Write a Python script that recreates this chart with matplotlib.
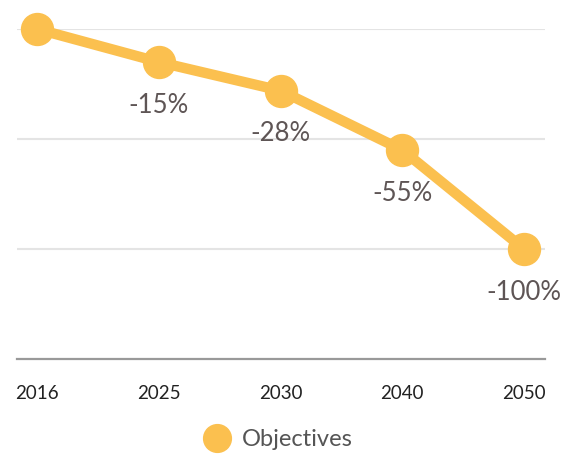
import matplotlib
matplotlib.use("Agg")
import matplotlib.pyplot as plt
from matplotlib.lines import Line2D

years = ["2016", "2025", "2030", "2040", "2050"]
objectives = [0, -15, -28, -55, -100]
point_labels = ["", "-15%", "-28%", "-55%", "-100%"]

color = "#fbc04f"

fig = plt.figure(figsize=(5.73, 4.62), dpi=100)
ax = fig.add_axes([17 / 573, 1 - 359 / 462, (545 - 17) / 573, (359 - 29) / 462])

x = list(range(len(years)))
ax.plot(x, objectives, color=color, lw=7.5, marker="o", ms=23, mec=color,
        mfc=color, clip_on=False, zorder=3, solid_capstyle="round")

for xi, yi, lab in zip(x, objectives, point_labels):
    if lab:
        ax.annotate(lab, (xi, yi), xytext=(0, -31), textcoords="offset points",
                    ha="center", va="center", fontsize=18.5, color="#5e5555",
                    family="Lato", zorder=4)

ax.set_xlim(-0.164, 4.172)
ax.set_ylim(-150, 0)
ax.set_yticks([-100, -50, 0])
ax.yaxis.grid(True, color="#e4e4e4", lw=1.5)
ax.set_axisbelow(True)
ax.tick_params(axis="y", left=False, labelleft=False)
ax.tick_params(axis="x", length=0, pad=19, labelsize=13.5, labelcolor="#222222")
ax.set_xticks(x)
ax.set_xticklabels(years, family="Lato")

for s in ["top", "left", "right"]:
    ax.spines[s].set_visible(False)
ax.spines["bottom"].set_color("#999999")
ax.spines["bottom"].set_linewidth(1.6)

handle = Line2D([], [], color=color, marker="o", ls="", ms=20)
fig.legend([handle], ["Objectives"], loc="center", bbox_to_anchor=(0.476, 1 - 440 / 462),
           frameon=False, handletextpad=0.05, prop={"family": "Lato", "size": 17},
           labelcolor="#555555")

fig.savefig("out.png", dpi=100)
